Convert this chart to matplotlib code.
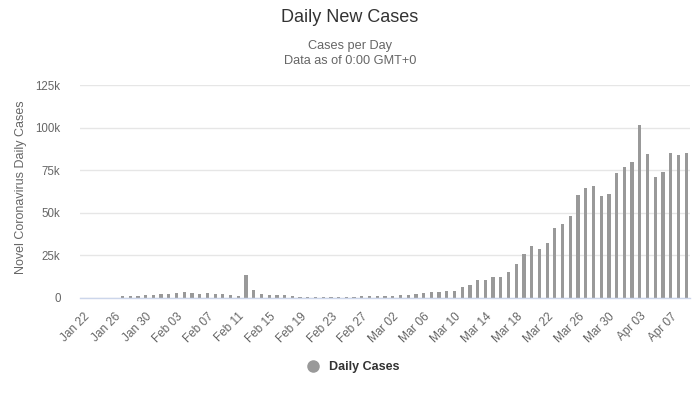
import matplotlib
matplotlib.use("Agg")
import matplotlib.pyplot as plt
from matplotlib.lines import Line2D
import numpy as np

plt.rcParams['font.family'] = ['Liberation Sans', 'DejaVu Sans']

# ---- data ----
dates = (
    ["Jan %02d" % d for d in range(22, 32)]
    + ["Feb %02d" % d for d in range(1, 30)]
    + ["Mar %02d" % d for d in range(1, 32)]
    + ["Apr %02d" % d for d in range(1, 10)]
)
jan_cases = [0, 0, 0, 0, 0, 1400, 1400, 1400, 1500, 2000]
feb_cases = [2100, 2600, 3200, 3800, 3200, 2600, 3100, 2600, 2600, 2000,
             1400, 13700, 4900, 2500, 2000, 2000, 1500, 1400, 400, 800,
             800, 800, 300, 800, 400, 800, 900, 1200, 1300]
mar_cases = [1200, 1200, 1700, 1700, 2200, 2800, 3500, 3500, 4100, 4100,
             6300, 7500, 10500, 10500, 12200, 12200, 15100, 20000, 25800, 30400,
             28600, 32100, 41000, 43300, 48000, 60200, 64300, 66000, 59600, 61300,
             73100]
apr_cases = [76600, 79600, 101300, 84300, 70800, 73700, 84900, 83700, 84900]
daily_cases = jan_cases + feb_cases + mar_cases + apr_cases

y_ticks = [0, 25000, 50000, 75000, 100000, 125000]
y_tick_labels = ["0", "25k", "50k", "75k", "100k", "125k"]

title = "Daily New Cases"
subtitle1 = "Cases per Day"
subtitle2 = "Data as of 0:00 GMT+0"
y_label = "Novel Coronavirus Daily Cases"
series_name = "Daily Cases"

# ---- figure ----
fig = plt.figure(figsize=(7.0, 3.98), dpi=100)
ax = fig.add_axes([80 / 700, 100 / 398, 610 / 700, 213 / 398])

x = np.arange(len(dates))
bar_color = "#999999"
ax.bar(x, daily_cases, width=0.42, color=bar_color, zorder=3)

ax.set_xlim(-0.5, len(dates) - 0.5)
ax.set_ylim(0, 125000)
ax.set_yticks(y_ticks)
ax.set_yticklabels(y_tick_labels)
ax.grid(axis="y", color="#e6e6e6", linewidth=1, zorder=0)
ax.set_axisbelow(True)

for s in ["top", "right", "left"]:
    ax.spines[s].set_visible(False)
ax.spines["bottom"].set_color("#ccd6eb")
ax.spines["bottom"].set_linewidth(1)
ax.spines["bottom"].set_zorder(4)

ax.tick_params(axis="y", length=0, pad=14, labelsize=8.3, labelcolor="#666666")
tick_idx = list(range(0, len(dates), 4))
ax.set_xticks(tick_idx)
ax.set_xticklabels([dates[i] for i in tick_idx], rotation=45, ha="right",
                   va="top", rotation_mode="anchor")
ax.tick_params(axis="x", length=0, pad=9, labelsize=8.5, labelcolor="#666666")

ax.set_ylabel(y_label, fontsize=9, color="#666666")
ax.yaxis.set_label_coords(-53 / 610, 0.52)

fig.text(0.5, 1 - 18 / 398, title, ha="center", va="center", fontsize=13, color="#333333")
fig.text(0.5, 1 - 46 / 398, subtitle1, ha="center", va="center", fontsize=9.2, color="#666666")
fig.text(0.5, 1 - 61 / 398, subtitle2, ha="center", va="center", fontsize=9.2, color="#666666")

handle = Line2D([], [], marker="o", linestyle="none", markersize=8,
                markerfacecolor=bar_color, markeredgecolor=bar_color)
fig.legend([handle], [series_name], loc="center", bbox_to_anchor=(0.5, 1 - 367 / 398),
           frameon=False, handletextpad=0.3, prop={"weight": "bold", "size": 9},
           labelcolor="#333333")

fig.savefig("out.png", dpi=100)
